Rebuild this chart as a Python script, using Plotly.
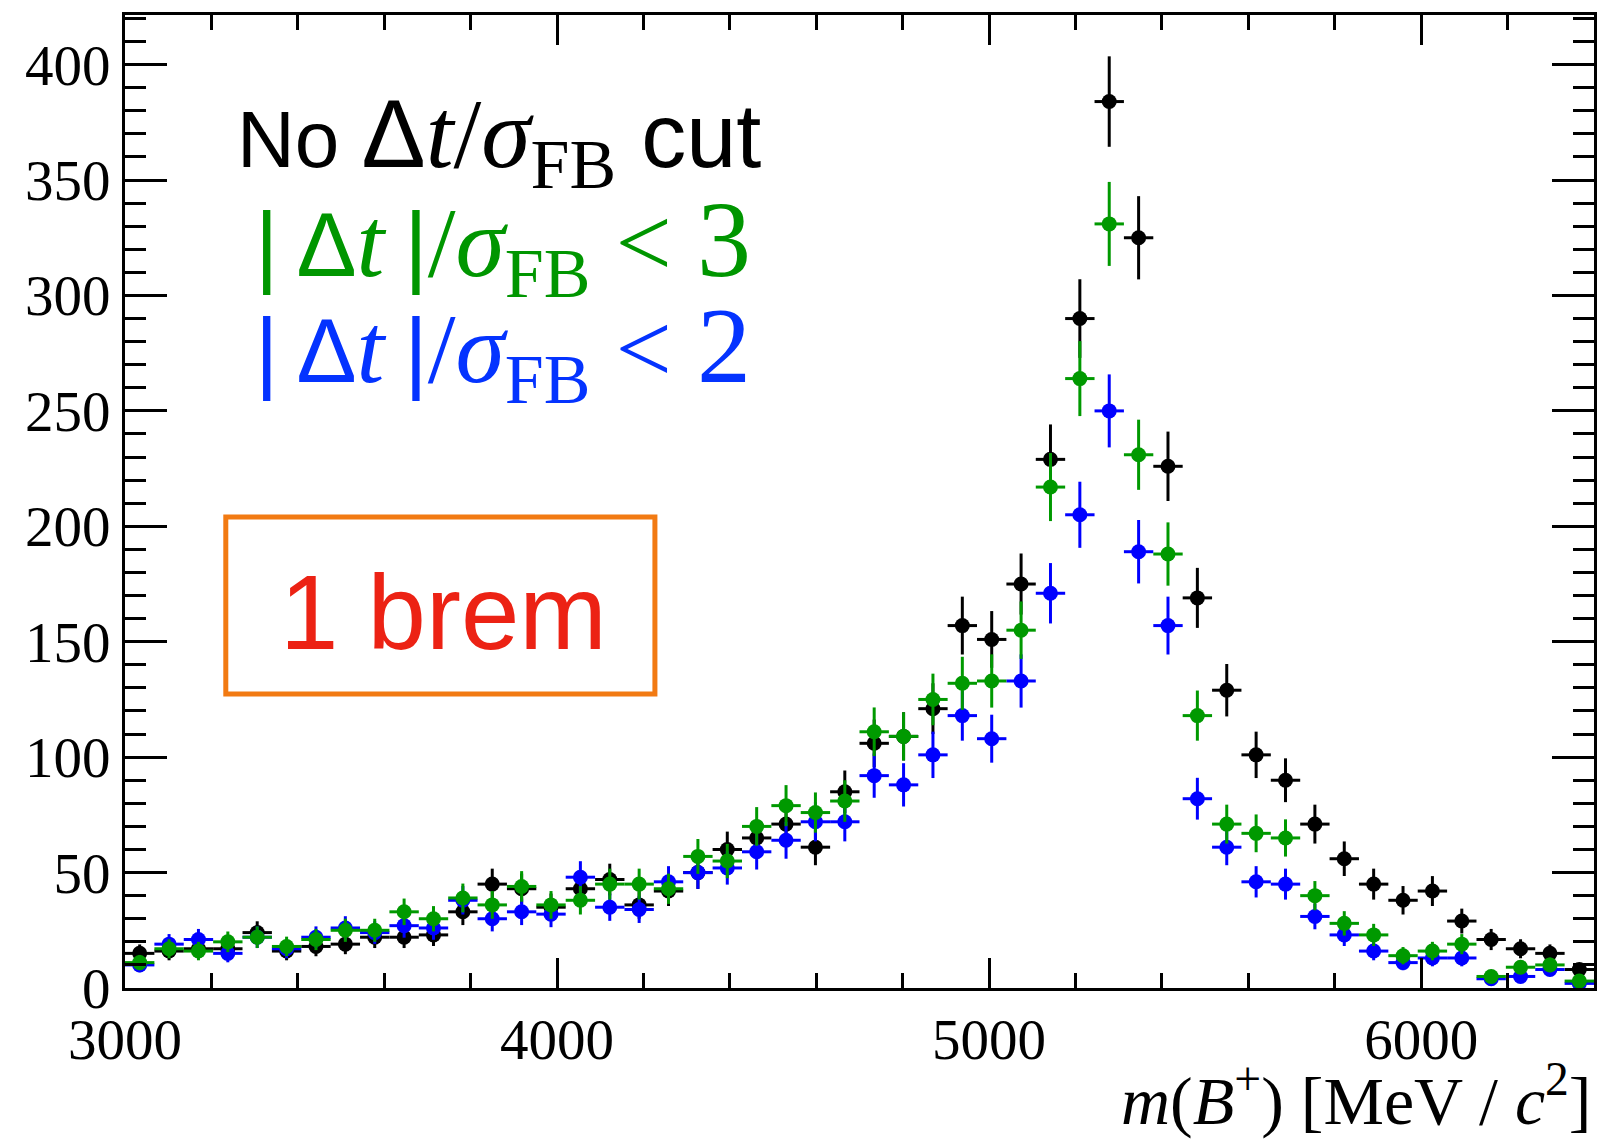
import numpy as np
import plotly.graph_objects as go

# Histogram binning: 50 bins of 68 MeV between 3000 and 6400 MeV
x_lo, x_hi, n_bins = 3000.0, 6400.0, 50
bin_width = (x_hi - x_lo) / n_bins
bin_centers = x_lo + bin_width * (np.arange(n_bins) + 0.5)

# Candidate counts per bin
counts_nocut = [15, 16, 17, 17, 24, 16, 18, 19, 22, 22,
                23, 33, 45, 43, 35, 43, 47, 36, 42, 50,
                60, 65, 71, 61, 85, 106, 109, 121, 157, 151,
                175, 229, 290, 384, 325, 226, 169, 129, 101, 90,
                71, 56, 45, 38, 42, 29, 21, 17, 15, 8]
counts_lt3 = [11, 17, 16, 20, 22, 18, 21, 25, 25, 33,
              30, 39, 36, 44, 36, 38, 45, 45, 43, 57,
              55, 70, 79, 76, 81, 111, 109, 125, 132, 133,
              155, 217, 264, 331, 231, 188, 118, 71, 67, 65,
              40, 28, 23, 14, 16, 19, 5, 9, 10, 3]
counts_lt2 = [10, 19, 21, 15, 22, 17, 22, 26, 24, 27,
              26, 38, 30, 33, 32, 48, 35, 34, 46, 50,
              52, 59, 64, 72, 72, 92, 88, 101, 118, 108,
              133, 171, 205, 250, 189, 157, 82, 61, 46, 45,
              31, 23, 16, 11, 13, 13, 4, 5, 8, 2]

series = [
    ("No cut", counts_nocut, "#000000"),
    ("|dt|/sigma < 2", counts_lt2, "#0000FF"),
    ("|dt|/sigma < 3", counts_lt3, "#009900"),
]

# Plot-area geometry in pixels
W, H = 1600, 1141
L, R, T, B = 125, 3, 15, 153
PW, PH = W - L - R, H - T - B


def px(xp):
    return (xp - L) / PW


def py(yp):
    return (H - B - yp) / PH


fig = go.Figure()
for name, vals, col in series:
    v = np.asarray(vals, dtype=float)
    fig.add_trace(go.Scatter(
        x=bin_centers, y=v, mode="markers", name=name,
        marker=dict(color=col, size=15, line=dict(width=0)),
        error_y=dict(type="data", array=np.sqrt(v), color=col,
                     thickness=3, width=0),
        error_x=dict(type="constant", value=bin_width / 2, color=col,
                     thickness=3, width=0),
        showlegend=False,
    ))

serif = "Liberation Serif, Times New Roman, serif"
sans = "Liberation Sans, Arial, sans-serif"

axis_common = dict(
    showgrid=False, zeroline=False, showline=True, linewidth=3,
    linecolor="black", mirror="allticks", ticks="inside",
    tickwidth=3, tickcolor="black",
    tickfont=dict(family=serif, size=57, color="black"),
)

fig.update_xaxes(range=[x_lo, x_hi], tick0=3000, dtick=1000, ticklen=30,
                 minor=dict(ticks="inside", ticklen=15, tickwidth=3,
                            dtick=200, tick0=3000, tickcolor="black",
                            showgrid=False),
                 **axis_common)
fig.update_yaxes(range=[0, 421.5], tick0=0, dtick=50, ticklen=42,
                 minor=dict(ticks="inside", ticklen=21, tickwidth=3,
                            dtick=10, tick0=0, tickcolor="black",
                            showgrid=False),
                 **axis_common)


def sp(s, size):
    return ('<span style="font-family:Liberation Sans;font-size:%dpx">' % size
            + s + '</span>')


line_nocut = (sp("No ", 80) + sp("Δ", 96)
              + "<i>t</i>/<i>σ</i><sub>FB</sub>" + sp("\u00a0cut", 90))


def cut_line(n):
    return (sp("|\u2009Δ", 90) + "<i>t</i>\u2009" + sp("|", 90)
            + "/<i>σ</i><sub>FB</sub>\u00a0&lt;\u00a0"
            + '<span style="font-size:108px">' + n + "</span>")


annotations = [
    # axis title
    dict(x=1.0, y=py(1096), xref="paper", yref="paper", xanchor="right",
         yanchor="middle", showarrow=False,
         text="<i>m</i>(<i>B</i><sup>+</sup>) [MeV / <i>c</i><sup>2</sup>]",
         font=dict(family=serif, size=68, color="black")),
    # selection labels
    dict(x=px(235), y=py(141), xref="paper", yref="paper", xanchor="left",
         yanchor="middle", showarrow=False, text=line_nocut,
         font=dict(family=serif, size=100, color="#000000")),
    dict(x=px(253), y=py(246), xref="paper", yref="paper", xanchor="left",
         yanchor="middle", showarrow=False, text=cut_line("3"),
         font=dict(family=serif, size=100, color="#009600")),
    dict(x=px(253), y=py(352), xref="paper", yref="paper", xanchor="left",
         yanchor="middle", showarrow=False, text=cut_line("2"),
         font=dict(family=serif, size=100, color="#0433FF")),
    # category tag
    dict(x=px(444), y=py(612), xref="paper", yref="paper", xanchor="center",
         yanchor="middle", showarrow=False, text="1 brem",
         font=dict(family=sans, size=105, color="#EC2214")),
]

fig.update_layout(
    width=W, height=H,
    margin=dict(l=L, r=R, t=T, b=B, pad=0),
    paper_bgcolor="white", plot_bgcolor="white",
    annotations=annotations,
    shapes=[dict(type="rect", xref="paper", yref="paper",
                 x0=px(226), x1=px(656), y0=py(694), y1=py(517),
                 line=dict(color="#F27A12", width=5), fillcolor="rgba(0,0,0,0)")],
)

fig.write_html("out.html")
